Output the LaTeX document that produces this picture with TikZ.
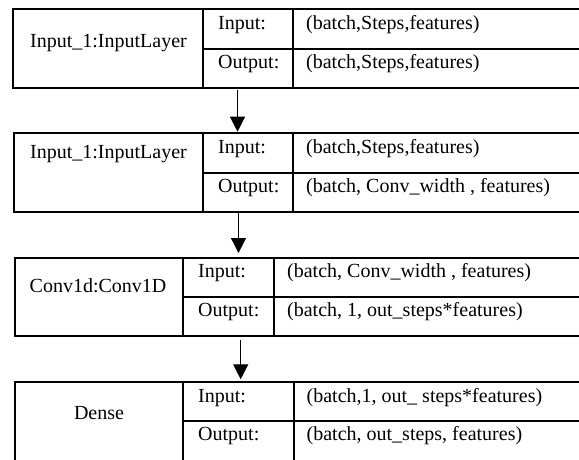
\documentclass[tikz,border=0pt]{standalone}
\usepackage{fontspec}
\setmainfont{Liberation Serif}
\usetikzlibrary{arrows.meta}
\begin{document}
\begin{tikzpicture}[x=1pt,y=-1pt,
  layerbox/.style={draw, line width=2pt, rectangle, anchor=north west, inner sep=0pt, outer sep=0pt},
  gridline/.style={line width=2pt},
  txt/.style={inner sep=0pt, font=\fontsize{20}{24}\selectfont},
  lbl/.style={txt, anchor=base},
  cell/.style={txt, anchor=base west},
  arr/.style={line width=1.3pt, -{Triangle[length=15pt,width=15pt]}}]
\useasboundingbox (0,0) rectangle (579,459);
\clip (0,0) rectangle (579,459);

% ---- table 1
\node[layerbox, minimum width=586.7pt, minimum height=78.4pt] (t1) at (13.3,9.3) {};
\draw[gridline] (203,9.3) -- (203,87.7);
\draw[gridline] (293,9.3) -- (293,87.7);
\draw[gridline] (203,49.3) -- (600,49.3);
\node[lbl] (t1name) at (108.5,47) {Input\_1:InputLayer};
\node[cell] (t1in) at (218,29.8) {Input:};
\node[cell] (t1inv) at (306,29.8) {(batch,Steps,features)};
\node[cell] (t1out) at (218,68.5) {Output:};
\node[cell] (t1outv) at (306,68.5) {(batch,Steps,features)};

% ---- table 2
\node[layerbox, minimum width=586pt, minimum height=79pt] (t2) at (14,133) {};
\draw[gridline] (203,133) -- (203,212);
\draw[gridline] (293,133) -- (293,212);
\draw[gridline] (203,172.5) -- (600,172.5);
\node[lbl] (t2name) at (108.5,158) {Input\_1:InputLayer};
\node[cell] (t2in) at (218,153.5) {Input:};
\node[cell] (t2inv) at (306,153.5) {(batch,Steps,features)};
\node[cell] (t2out) at (218,192) {Output:};
\node[cell] (t2outv) at (306,192) {(batch, Conv\_width , features)};

% ---- table 3
\node[layerbox, minimum width=585.3pt, minimum height=77.7pt] (t3) at (14.7,258.3) {};
\draw[gridline] (182.7,258.3) -- (182.7,336);
\draw[gridline] (274,258.3) -- (274,336);
\draw[gridline] (182.7,296.7) -- (600,296.7);
\node[lbl] (t3name) at (98,292.7) {Conv1d:Conv1D};
\node[cell] (t3in) at (198,277) {Input:};
\node[cell] (t3inv) at (287,277) {(batch, Conv\_width , features)};
\node[cell] (t3out) at (198,316) {Output:};
\node[cell] (t3outv) at (287,316) {(batch, 1, out\_steps*features)};

% ---- table 4
\node[layerbox, minimum width=585.3pt, minimum height=100pt] (t4) at (14.7,382) {};
\draw[gridline] (183,382) -- (183,482);
\draw[gridline] (293.5,382) -- (293.5,482);
\draw[gridline] (183,420.7) -- (600,420.7);
\node[lbl] (t4name) at (99,419) {Dense};
\node[cell] (t4in) at (198,402) {Input:};
\node[cell] (t4inv) at (306.5,402) {(batch,1, out\_ steps*features)};
\node[cell] (t4out) at (198,440.5) {Output:};
\node[cell] (t4outv) at (306.5,440.5) {(batch, out\_steps, features)};

% ---- connectors
\coordinate (ax1) at (237.5,0);
\coordinate (ax2) at (238.5,0);
\coordinate (ax3) at (240.7,0);
\draw[arr, shorten <=2.3pt, shorten >=1.3pt] (t1.south -| ax1) -- (t2.north -| ax1);
\draw[arr, shorten <=1.3pt, shorten >=5.3pt] (t2.south -| ax2) -- (t3.north -| ax2);
\draw[arr, shorten <=4pt, shorten >=2.7pt] (t3.south -| ax3) -- (t4.north -| ax3);
\end{tikzpicture}
\end{document}
